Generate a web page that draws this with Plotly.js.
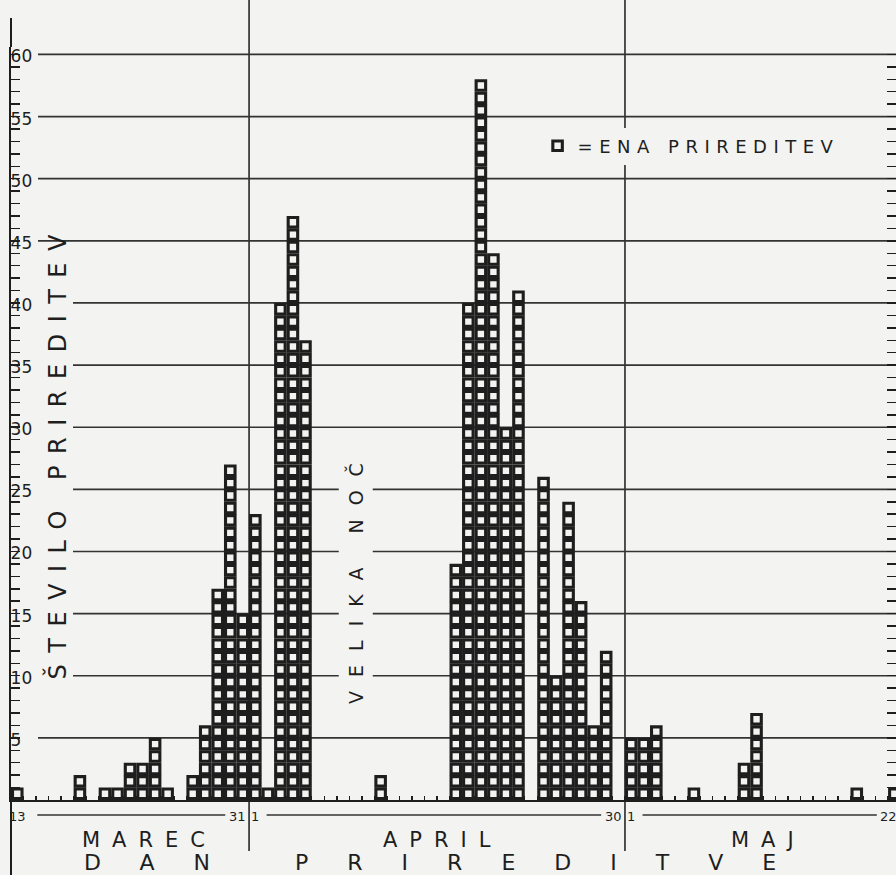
<!DOCTYPE html>
<html><head><meta charset="utf-8">
<script src="https://cdn.plot.ly/plotly-3.0.1.min.js"></script>
<style>
html,body{margin:0;padding:0;background:#f3f3f1;}
#chart{width:896px;height:875px;}
text[style*="font-size: 24px"]{letter-spacing:11.5px;}
text[style*="font-size: 19px"]{letter-spacing:14px;}
text[style*="font-size: 21px"]{letter-spacing:12px;}
text[style*="font-size: 22px"]{letter-spacing:39px;}
.legendtext{letter-spacing:6.5px;}
</style></head>
<body><div id="chart"></div>
<script>
// Number of events per day, 13 March - 22 May
const monthNames = ['MAREC', 'APRIL', 'MAJ'];
const firstDay = [13, 1, 1];
const marec = [1,0,0,0,0,2,0,1,1,3,3,5,1,0,2,6,17,27,15];                       // 13.-31. III
const april = [23,1,40,47,37,0,0,0,0,0,2,0,0,0,0,0,19,40,58,44,30,41,0,26,10,24,16,6,12,0]; // 1.-30. IV
const maj = [5,5,6,0,0,1,0,0,0,3,7,0,0,0,0,0,0,0,1,0,0,1];                      // 1.-22. V
const monthValues = [marec, april, maj];
const yTicks = [5,10,15,20,25,30,35,40,45,50,55,60];
const legendName = '=ENA PRIREDITEV';
const yTitle = 'ŠTEVILO PRIREDITEV';
const xTitle = 'DAN PRIREDITVE';
const easterLabel = 'VELIKA NOČ';
const easterMonth = 1, easterDate = 9;

const PAPER = '#f3f3f1', INK = '#1e1e1e', GRID = '#333333';
const H = 753; // plot height in px (for paper-coordinate helpers)
const py = px => (800 - px) / H;        // page px -> paper y
const pxX = px => (px - 11) / 885;      // page px -> paper x
const monthLabelShift = [19, 6, 6];

// month offsets (day index)
const offsets = [];
let acc = 0;
monthValues.forEach(m => { offsets.push(acc); acc += m.length; });

// one square per event
const xs = [], ys = [];
monthValues.forEach((vals, mi) => {
  vals.forEach((v, d) => {
    for (let k = 0; k < v; k++) { xs.push(offsets[mi] + d); ys.push(k + 0.5); }
  });
});

// day labels: first and last day of each month
const dayLabelX = [], dayLabelText = [];
monthValues.forEach((vals, mi) => {
  dayLabelX.push(offsets[mi]); dayLabelText.push(String(firstDay[mi]));
  dayLabelX.push(offsets[mi] + vals.length - 1 - 0.45); dayLabelText.push(String(firstDay[mi] + vals.length - 1));
});

const shapes = [];
// horizontal grid lines (start after the labels / the axis title)
yTicks.forEach(v => {
  const x0 = (v >= 10 && v <= 40) ? pxX(73) : pxX(38);
  shapes.push({type:'line', xref:'paper', yref:'y', x0:x0, x1:1, y0:v, y1:v,
    line:{color:GRID, width:1.7}, layer:'below'});
});
// month boundary verticals
for (let mi = 1; mi < monthValues.length; mi++) {
  const b = offsets[mi] - 0.5;
  shapes.push({type:'line', xref:'x', yref:'paper', x0:b, x1:b, y0:py(851), y1:py(0),
    line:{color:GRID, width:1.7}, layer:'below'});
}
// span lines between first/last day labels
monthValues.forEach((vals, mi) => {
  const s = offsets[mi], e = offsets[mi] + vals.length - 1;
  const x0 = s + (firstDay[mi] >= 10 ? 1.6 : 0.9);
  shapes.push({type:'line', xref:'x', yref:'paper', x0:x0, x1:e - 1.4, y0:py(815), y1:py(815),
    line:{color:GRID, width:1.5}});
});
// y axis line extensions
shapes.push({type:'line', xref:'paper', yref:'paper', x0:0, x1:0, y0:py(876), y1:0, line:{color:INK, width:2}});
shapes.push({type:'line', xref:'paper', yref:'paper', x0:0, x1:0, y0:1, y1:py(18), line:{color:INK, width:2}});

const annotations = [
  {text:yTitle, xref:'paper', yref:'paper', x:pxX(56), y:py(451.5), xanchor:'center', yanchor:'middle',
   textangle:-90, showarrow:false, font:{family:'DejaVu Sans', size:24, color:INK}},
  {text:easterLabel, xref:'x', yref:'y', x:offsets[easterMonth] + easterDate - 1, y:18, xanchor:'center', yanchor:'middle',
   textangle:-90, showarrow:false, font:{family:'DejaVu Sans', size:19, color:INK}, bgcolor:PAPER, borderpad:5},
];
monthNames.forEach((name, mi) => {
  annotations.push({text:name, xref:'x', yref:'paper', x:offsets[mi] + (monthValues[mi].length - 1) / 2,
    y:py(840), xanchor:'center', yanchor:'middle', xshift:monthLabelShift[mi], showarrow:false,
    font:{family:'DejaVu Sans', size:21, color:INK}});
});
annotations.push({text:xTitle, xref:'paper', yref:'paper', x:pxX(449.5), y:py(862), xanchor:'center', yanchor:'middle',
  showarrow:false, font:{family:'DejaVu Sans', size:22, color:INK}});
dayLabelX.forEach((x, i) => {
  annotations.push({text:dayLabelText[i], xref:'x', yref:'paper', x:x, y:py(816), xanchor:'center', yanchor:'middle',
    showarrow:false, font:{family:'DejaVu Sans', size:13, color:INK}});
});

const trace = {type:'scatter', mode:'markers', x:xs, y:ys, name:legendName, hoverinfo:'skip',
  marker:{symbol:'square', size:9.5, color:PAPER, line:{color:INK, width:3.1}}};

const layout = {
  width:896, height:875,
  margin:{l:11, r:0, t:47, b:75},
  paper_bgcolor:PAPER, plot_bgcolor:PAPER,
  showlegend:true,
  legend:{x:0.595, xanchor:'left', y:py(146), yanchor:'middle', bgcolor:PAPER,
    font:{family:'DejaVu Sans', size:18, color:INK}, itemsizing:'trace'},
  xaxis:{range:[-0.5, 70.13], showgrid:false, zeroline:false, showline:true, linecolor:INK, linewidth:2,
    showticklabels:false, ticks:'',
    minor:{tickmode:'linear', tick0:0.5, dtick:1, ticks:'inside', ticklen:4, tickcolor:INK, tickwidth:1.5}},
  yaxis:{range:[0, 60.6], showgrid:false, zeroline:false, showline:true, linecolor:INK, linewidth:2,
    tickmode:'array', tickvals:yTicks, ticks:'', ticklabelposition:'inside', mirror:'ticks',
    ticklabeloverflow:'allow',
    tickfont:{family:'DejaVu Sans', size:17, color:INK}, ticklabelshift:2,
    minor:{tickmode:'linear', tick0:0, dtick:1, ticks:'inside', ticklen:9, tickcolor:INK, tickwidth:1.5}},
  shapes:shapes, annotations:annotations, hovermode:false
};
Plotly.newPlot('chart', [trace], layout, {displayModeBar:false, staticPlot:true});
</script></body></html>
